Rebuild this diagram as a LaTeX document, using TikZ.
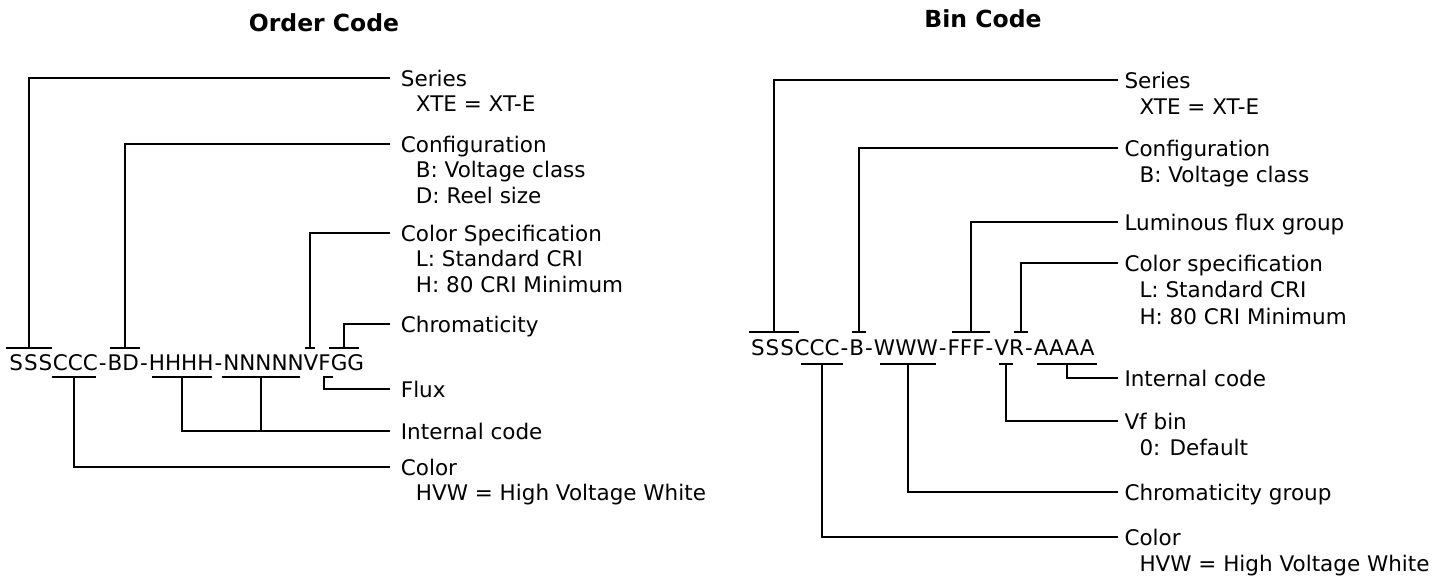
\documentclass[tikz,border=0pt]{standalone}
\usepackage{fontspec}
\setmainfont{DejaVu Sans}
\newcommand\lns[1]{\begin{tabular}[t]{@{}l@{}}#1\end{tabular}}
\newcommand\hy{\makebox[9.8pt]{-}}
\newcommand\Sv{\makebox[14.7pt]{S}}
\newcommand\ind{\hspace*{15pt}}
\begin{document}
\begin{tikzpicture}[x=1pt,y=-1pt,
  ln/.style={line width=2pt},
  barnode/.style={inner sep=0pt, outer sep=0pt, minimum height=0pt, minimum width=#1},
  labl/.style={inner sep=0pt, anchor=base west, font=\fontsize{21.5}{25.5}\selectfont},
  labr/.style={inner sep=0pt, anchor=base west, font=\fontsize{21.5}{26.5}\selectfont},
  codetxt/.style={inner sep=0pt, anchor=base west, font=\fontsize{21.5}{26}\selectfont},
  ttl/.style={inner sep=0pt, anchor=base, font=\fontsize{23.5}{28}\selectfont\bfseries},
  toL/.style={xshift=-10.7pt, yshift=8pt},
  toR/.style={xshift=-6.3pt, yshift=8pt}]
\useasboundingbox (0,0) rectangle (1453,576);

% ---------- titles
\node[ttl] (t1) at (324,31.7) {Order Code};
\node[ttl] (t2) at (983,27.3) {Bin Code};

% ---------- left code
\node[codetxt] (codeL) at (8.6,370) {\Sv\Sv\Sv CCC\hy BD\hy HHHH\hy NNNNNVFGG};
\node[barnode=46pt] (bS) at (29,348) {};
\node[barnode=30pt] (bBD) at (125,348) {};
\node[barnode=10pt] (bV) at (310,348) {};
\node[barnode=30pt] (bG) at (344,348) {};
\node[barnode=44pt] (bC) at (74,377) {};
\node[barnode=60pt] (bH) at (182,377) {};
\node[barnode=78pt] (bN) at (261,377) {};
\node[barnode=10pt] (bF) at (328,377) {};
\foreach \b in {bS,bBD,bV,bG,bC,bH,bN,bF} \draw[ln] (\b.west) -- (\b.east);

\node[labl] (lSer) at (400.7,86) {\lns{Series\\\ind XTE = XT-E}};
\node[labl] (lConf) at (400.7,152) {\lns{Configuration\\\ind B: Voltage class\\\ind D: Reel size}};
\node[labl] (lCS) at (400.7,241) {\lns{Color Specification\\\ind L: Standard CRI\\\ind H: 80 CRI Minimum}};
\node[labl] (lChr) at (400.7,332) {Chromaticity};
\node[labl] (lFlux) at (400.7,397) {Flux};
\node[labl] (lInt) at (400.7,439) {Internal code};
\node[labl] (lCol) at (400.7,475) {\lns{Color\\\ind HVW = High Voltage White}};

\draw[ln] (bS) |- ([toL]lSer.base west);
\draw[ln] (bBD) |- ([toL]lConf.base west);
\draw[ln] (bV) |- ([toL]lCS.base west);
\draw[ln] (bG) |- ([toL]lChr.base west);
\draw[ln] ([xshift=-4pt]bF.center) |- ([toL]lFlux.base west);
\draw[ln] (bH) |- ([toL]lInt.base west);
\draw[ln] (bN) |- ([toL]lInt.base west);
\draw[ln] (bC) |- ([toL]lCol.base west);

% ---------- right code
\node[codetxt] (codeR) at (750.3,355) {\Sv\Sv\Sv CCC\hy B\hy WWW\hy FFF\hy VR\hy AAAA};
\node[barnode=50pt] (rS) at (774,332) {};
\node[barnode=14pt] (rB) at (859,332) {};
\node[barnode=38pt] (rF) at (971,332) {};
\node[barnode=14pt] (rR) at (1021,332) {};
\node[barnode=42pt] (rC) at (822,364) {};
\node[barnode=56pt] (rW) at (908,364) {};
\node[barnode=14pt] (rV) at (1006,364) {};
\node[barnode=60pt] (rA) at (1067,364) {};
\foreach \b in {rS,rB,rF,rR,rC,rW,rV,rA} \draw[ln] (\b.west) -- (\b.east);

\node[labr] (mSer) at (1124.3,88) {\lns{Series\\\ind XTE = XT-E}};
\node[labr] (mConf) at (1124.3,156) {\lns{Configuration\\\ind B: Voltage class}};
\node[labr] (mLum) at (1124.3,230) {Luminous flux group};
\node[labr] (mCS) at (1124.3,271) {\lns{Color specification\\\ind L: Standard CRI\\\ind H: 80 CRI Minimum}};
\node[labr] (mInt) at (1124.3,386) {Internal code};
\node[labr] (mVf) at (1124.3,429) {\lns{Vf bin\\\ind 0: Default}};
\node[labr] (mChr) at (1124.3,500) {Chromaticity group};
\node[labr] (mCol) at (1124.3,545) {\lns{Color\\\ind HVW = High Voltage White}};

\draw[ln] (rS) |- ([toR]mSer.base west);
\draw[ln] (rB) |- ([toR]mConf.base west);
\draw[ln] (rF) |- ([toR]mLum.base west);
\draw[ln] (rR) |- ([toR]mCS.base west);
\draw[ln] (rA) |- ([toR]mInt.base west);
\draw[ln] (rV) |- ([toR]mVf.base west);
\draw[ln] (rW) |- ([toR]mChr.base west);
\draw[ln] (rC) |- ([toR]mCol.base west);
\end{tikzpicture}
\end{document}
